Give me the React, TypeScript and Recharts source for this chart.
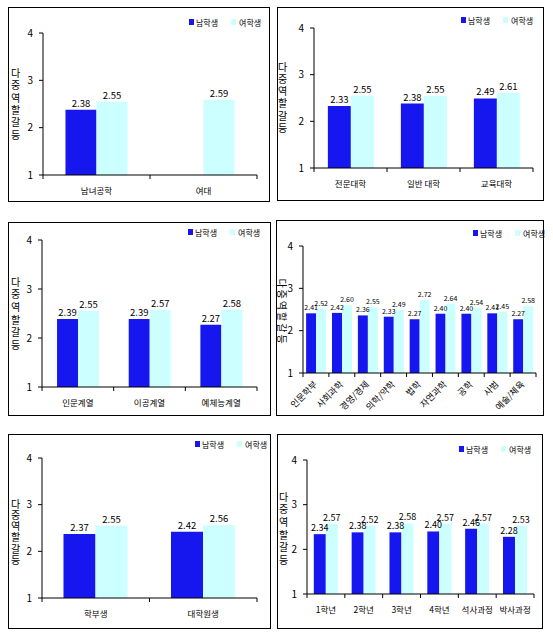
import React from 'react';
import { BarChart, Bar, XAxis, YAxis, LabelList } from 'recharts';

const seriesNames = ['남학생', '여학생'];
const yTicks = [1, 2, 3, 4];
const yLabel = '다중역할갈등';

const cats1 = ['남녀공학', '여대'];
const male1 = [2.38, null];
const female1 = [2.55, 2.59];

const cats2 = ['전문대학', '일반  대학', '교육대학'];
const male2 = [2.33, 2.38, 2.49];
const female2 = [2.55, 2.55, 2.61];

const cats3 = ['인문계열', '이공계열', '예체능계열'];
const male3 = [2.39, 2.39, 2.27];
const female3 = [2.55, 2.57, 2.58];

const cats4 = ['인문학부', '사회과학', '경영/경제', '의학/약학', '법학', '자연과학', '공학', '사범', '예술/체육'];
const male4 = [2.41, 2.42, 2.36, 2.33, 2.27, 2.40, 2.40, 2.41, 2.27];
const female4 = [2.52, 2.60, 2.55, 2.49, 2.72, 2.64, 2.54, 2.45, 2.58];

const cats5 = ['학부생', '대학원생'];
const male5 = [2.37, 2.42];
const female5 = [2.55, 2.56];

const cats6 = ['1학년', '2학년', '3학년', '4학년', '석사과정', '박사과정'];
const male6 = [2.34, 2.38, 2.38, 2.40, 2.46, 2.28];
const female6 = [2.57, 2.52, 2.58, 2.57, 2.57, 2.53];

const BLUE = '#1616EE';
const CYAN = '#CCFFFF';
const FONT = '"Noto Sans CJK KR", "Noto Sans", sans-serif';

type PanelCfg = {
  L: number; T: number; W: number; H: number;
  x0: number; x1: number; y0: number; y1: number;
  cats: string[]; male: (number | null)[]; female: number[];
  gap: string; lblFont: number; rotate?: boolean; rotLabel?: boolean;
  legX: number; legY: number; ylX: number; ylY0: number; ylY1: number;
};

const panels: PanelCfg[] = [
  { L: 8, T: 7, W: 262, H: 195, x0: 43, x1: 257, y0: 33, y1: 175, cats: cats1, male: male1, female: female1, gap: '21%', lblFont: 9.5, legX: 189, legY: 22, ylX: 15, ylY0: 73, ylY1: 135 },
  { L: 277, T: 7, W: 267, H: 194, x0: 314, x1: 533, y0: 28, y1: 168, cats: cats2, male: male2, female: female2, gap: '19%', lblFont: 9.5, legX: 461, legY: 20, ylX: 282, ylY0: 67, ylY1: 128 },
  { L: 8, T: 222, W: 263, H: 194, x0: 42, x1: 257, y0: 240, y1: 387, cats: cats3, male: male3, female: female3, gap: '21%', lblFont: 9.5, legX: 188, legY: 232, ylX: 15, ylY0: 282, ylY1: 345 },
  { L: 276, T: 220, W: 268, H: 196, x0: 303, x1: 536, y0: 246, y1: 373, cats: cats4, male: male4, female: female4, gap: '12%', lblFont: 7, rotate: true, rotLabel: true, legX: 473, legY: 233, ylX: 282, ylY0: 282, ylY1: 342 },
  { L: 8, T: 434, W: 263, H: 195, x0: 42, x1: 257, y0: 458, y1: 598, cats: cats5, male: male5, female: female5, gap: '20%', lblFont: 9.5, legX: 195, legY: 444, ylX: 15, ylY0: 504, ylY1: 560 },
  { L: 277, T: 434, W: 266, H: 195, x0: 307, x1: 534, y0: 460, y1: 594, cats: cats6, male: male6, female: female6, gap: '18%', lblFont: 9, legX: 459, legY: 449, ylX: 283, ylY0: 497, ylY1: 560 },
];

const YW = 22;

function makeTick(step: number, n: number, rotate?: boolean) {
  return (props: any) => {
    const { x, y, payload } = props;
    const i = payload.index;
    return (
      <g>
        <line x1={x - step / 2} x2={x - step / 2} y1={y} y2={y + 4} stroke="#000" />
        {i === n - 1 && <line x1={x + step / 2} x2={x + step / 2} y1={y} y2={y + 4} stroke="#000" />}
        {rotate ? (
          <text x={x + 2} y={y + 12} textAnchor="end" fontSize={9} fontFamily={FONT} fill="#000"
            transform={`rotate(-45 ${x + 2} ${y + 12})`}>{payload.value}</text>
        ) : (
          <text x={x} y={y + 19} textAnchor="middle" fontSize={8.5} fontFamily={FONT} fill="#000">{payload.value}</text>
        )}
      </g>
    );
  };
}

function Panel({ c }: { c: PanelCfg }) {
  const data = c.cats.map((name, i) => ({ name, m: c.male[i], f: c.female[i] }));
  const xh = c.rotate ? 40 : 20;
  const margin = {
    left: c.x0 - c.L - YW,
    right: c.L + c.W - c.x1,
    top: c.y0 - c.T,
    bottom: c.T + c.H - c.y1 - xh,
  };
  const step = (c.x1 - c.x0) / c.cats.length;
  const n = yLabel.length;
  const dy = (c.ylY1 - c.ylY0) / (n - 1);
  const fs = 10;
  const ls = dy - fs;
  const midY = (c.ylY0 + c.ylY1) / 2;
  return (
    <>
      <div style={{ position: 'absolute', left: c.L, top: c.T, width: c.W, height: c.H, boxSizing: 'border-box', border: '1px solid #000' }} />
      <div style={{ position: 'absolute', left: c.L, top: c.T }}>
        <BarChart width={c.W} height={c.H} data={data} margin={margin} barCategoryGap={c.gap} barGap={0}>
          <XAxis dataKey="name" height={xh} tickSize={0} tickMargin={0} axisLine={{ stroke: '#000' }} tickLine={false}
            tick={makeTick(step, c.cats.length, c.rotate)} interval={0} />
          <YAxis width={YW} domain={[1, 4]} ticks={yTicks} allowDataOverflow tickSize={4} tickMargin={6}
            axisLine={{ stroke: '#000' }} tickLine={{ stroke: '#000' }}
            tick={{ fontSize: 10, fill: '#000', fontFamily: FONT }} />
          <Bar dataKey="m" name={seriesNames[0]} fill={BLUE} isAnimationActive={false}>
            <LabelList dataKey="m" position="top" offset={3} fontSize={c.lblFont} fill="#000" fontFamily={FONT}
              formatter={(v: any) => (v == null ? '' : Number(v).toFixed(2))} />
          </Bar>
          <Bar dataKey="f" name={seriesNames[1]} fill={CYAN} isAnimationActive={false}>
            <LabelList dataKey="f" position="top" offset={3} fontSize={c.lblFont} fill="#000" fontFamily={FONT}
              formatter={(v: any) => (v == null ? '' : Number(v).toFixed(2))} />
          </Bar>
        </BarChart>
      </div>
      <div style={{ position: 'absolute', left: c.legX, top: c.legY - 6, height: 12, display: 'flex', alignItems: 'center', fontFamily: FONT, fontSize: 8, color: '#000', whiteSpace: 'nowrap' }}>
        <span style={{ width: 5, height: 6, background: BLUE, display: 'inline-block', marginRight: 2 }} />
        <span>{seriesNames[0]}</span>
        <span style={{ width: 5, height: 6, background: CYAN, display: 'inline-block', marginLeft: 13, marginRight: 3 }} />
        <span>{seriesNames[1]}</span>
      </div>
      {c.rotLabel ? (
        <div style={{ position: 'absolute', left: c.ylX, top: midY, transform: 'translate(-50%, -50%) rotate(90deg)', fontFamily: FONT, fontSize: fs, lineHeight: fs + 'px', letterSpacing: ls + 'px', whiteSpace: 'nowrap', color: '#000' }}>{yLabel}</div>
      ) : (
        <div style={{ position: 'absolute', left: c.ylX - fs / 2, top: c.ylY0 - fs / 2, writingMode: 'vertical-rl', textOrientation: 'upright', fontFamily: FONT, fontSize: fs, lineHeight: fs + 'px', letterSpacing: ls + 'px', whiteSpace: 'nowrap', color: '#000' }}>{yLabel}</div>
      )}
    </>
  );
}

export default function App() {
  return (
    <div style={{ position: 'absolute', left: 0, top: 0, width: 553, height: 639, background: '#fff' }}>
      {panels.map((c, i) => <Panel key={i} c={c} />)}
    </div>
  );
}
